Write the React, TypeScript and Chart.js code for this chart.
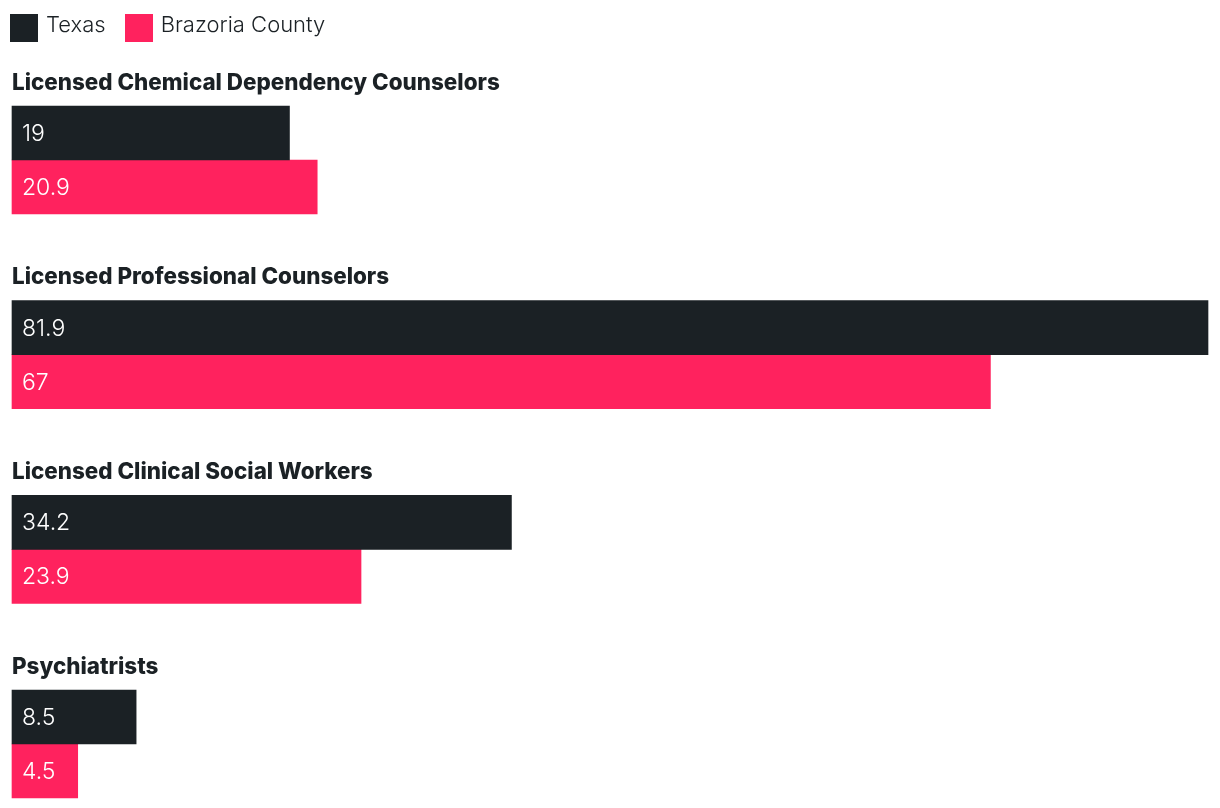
import React, { useEffect, useRef } from "react";
import { Chart, registerables } from "chart.js";

Chart.register(...registerables);

const categories = [
  "Licensed Chemical Dependency Counselors",
  "Licensed Professional Counselors",
  "Licensed Clinical Social Workers",
  "Psychiatrists",
];
const texasValues = [19, 81.9, 34.2, 8.5];
const brazoriaValues = [20.9, 67, 23.9, 4.5];
const seriesNames = ["Texas", "Brazoria County"];

const DARK = "#1b2125";
const PINK = "#ff225e";
const FONT = "Inter, 'Noto Sans', sans-serif";

// canvas is shifted 9px up/left of the page origin
const SHIFT = 9;
const W = 1220 + SHIFT;
const H = 808 + SHIFT;

function makeSwatch(color: string) {
  const c = document.createElement("canvas");
  c.width = 28;
  c.height = 36;
  const ctx = c.getContext("2d")!;
  ctx.fillStyle = color;
  ctx.fillRect(0, 7, 28, 28);
  return c;
}

const legendSpacer = {
  id: "legendSpacer",
  beforeLayout(chart: any) {
    const lg = chart.legend;
    if (lg && !lg.__patched) {
      const orig = lg.fit;
      lg.fit = function () {
        orig.call(this);
        this.height = 159 + SHIFT;
      };
      lg.__patched = true;
    }
  },
};

const valueLabels = {
  id: "valueLabels",
  afterDatasetsDraw(chart: any) {
    const ctx = chart.ctx;
    chart.data.datasets.forEach((ds: any, i: number) => {
      const meta = chart.getDatasetMeta(i);
      meta.data.forEach((el: any, j: number) => {
        const p = el.getProps(["base", "y"], true);
        ctx.save();
        ctx.font = `300 23px ${FONT}`;
        ctx.fillStyle = "#ffffff";
        ctx.textBaseline = "middle";
        ctx.textAlign = "left";
        ctx.fillText(String(ds.data[j]), p.base + 10, p.y + 1);
        ctx.restore();
      });
    });
  },
};

export default function App() {
  const ref = useRef<HTMLCanvasElement | null>(null);

  useEffect(() => {
    if (!ref.current) return;
    const swatches = [makeSwatch(DARK), makeSwatch(PINK)];
    const chart = new Chart(ref.current, {
      type: "bar",
      data: {
        labels: categories,
        datasets: [
          { label: seriesNames[0], data: texasValues, backgroundColor: DARK, borderWidth: 0, pointStyle: swatches[0] as any },
          { label: seriesNames[1], data: brazoriaValues, backgroundColor: PINK, borderWidth: 0, pointStyle: swatches[1] as any },
        ],
      },
      options: {
        indexAxis: "y",
        responsive: false,
        animation: false,
        devicePixelRatio: 1,
        datasets: { bar: { barThickness: 54, clip: false as any } },
        layout: { padding: { top: 1, left: 0, right: 12, bottom: 64 } },
        scales: {
          x: { type: "linear", min: 0, max: 81.9, display: false },
          y: {
            type: "category",
            offset: false,
            afterFit: (s: any) => {
              s.width = 12 + SHIFT;
            },
            grid: { display: false, drawTicks: false },
            border: { display: false },
            ticks: {
              mirror: true,
              padding: 0,
              crossAlign: "near",
              labelOffset: -77,
              autoSkip: false,
              color: DARK,
              font: { family: FONT, size: 22.4, weight: "800" },
            },
          },
        },
        plugins: {
          tooltip: { enabled: false },
          legend: {
            display: true,
            position: "top",
            align: "start",
            labels: {
              usePointStyle: true,
              pointStyleWidth: 22,
              boxHeight: 22,
              padding: 22,
              color: DARK,
              font: { family: FONT, size: 22, weight: "300" },
            },
          },
        },
      },
      plugins: [legendSpacer, valueLabels],
    });
    return () => chart.destroy();
  }, []);

  return (
    <div style={{ position: "fixed", left: -SHIFT, top: -SHIFT, width: W, height: H }}>
      <canvas ref={ref} width={W} height={H} style={{ width: W, height: H, display: "block" }} />
    </div>
  );
}
